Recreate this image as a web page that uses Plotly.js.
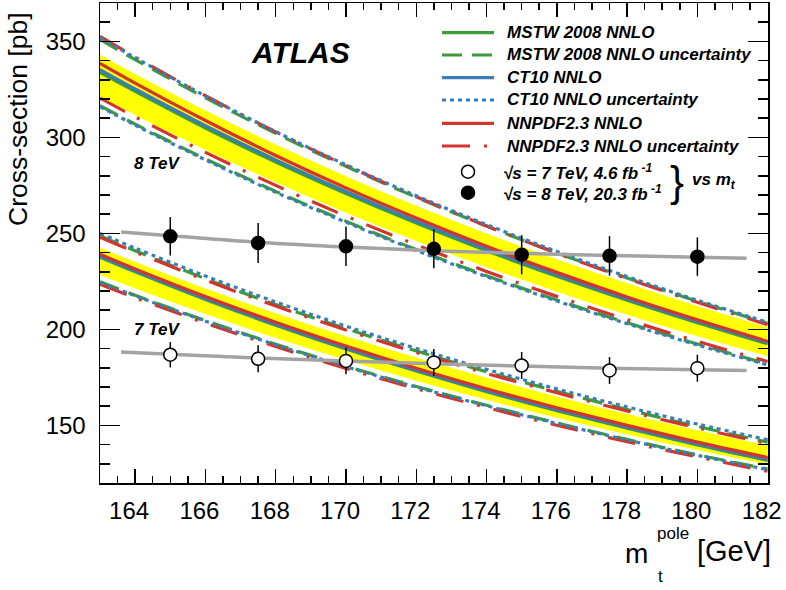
<!DOCTYPE html>
<html>
<head>
<meta charset="utf-8">
<script src="https://cdn.plot.ly/plotly-3.0.1.min.js"></script>
<style>
  html, body { margin: 0; padding: 0; background: #fff; }
  #chart { width: 786px; height: 590px; }
</style>
</head>
<body>
<div id="chart"></div>
<script>
// top mass grid for the theory curves [GeV]
const mass = [163, 164, 166, 168, 170, 172, 174, 176, 178, 180, 182];

// 8 TeV predictions [pb]
const band8Hi = [343.0, 333.0, 314.0, 296.3, 279.8, 264.4, 250.0, 236.6, 224.0, 212.2, 201.2];
const band8Lo = [321.3, 311.7, 293.5, 276.6, 260.8, 246.1, 232.4, 219.6, 207.6, 196.4, 186.0];
const mstw8   = [333.8, 324.0, 304.9, 287.2, 270.8, 255.4, 241.0, 227.7, 215.2, 203.5, 192.5];
const mstw8Up = [351.0, 340.5, 320.6, 302.1, 284.9, 268.8, 253.8, 239.8, 226.8, 214.6, 203.2];
const mstw8Dn = [316.5, 306.9, 288.8, 271.9, 256.3, 241.6, 228.0, 215.3, 203.5, 192.4, 182.0];
const ct108   = [335.3, 325.2, 306.1, 288.3, 271.8, 256.3, 241.9, 228.5, 215.9, 204.2, 193.2];
const ct108Up = [352.0, 341.5, 321.6, 303.0, 285.7, 269.6, 254.6, 240.6, 227.5, 215.2, 203.7];
const ct108Dn = [316.0, 306.4, 288.3, 271.4, 255.8, 241.1, 227.5, 214.8, 203.0, 191.9, 181.5];
const nnpdf8   = [338.6, 328.3, 308.8, 290.6, 273.7, 258.0, 243.3, 229.7, 216.9, 205.0, 193.8];
const nnpdf8Up = [352.6, 341.9, 321.7, 302.9, 285.4, 269.1, 253.9, 239.7, 226.5, 214.1, 202.5];
const nnpdf8Dn = [320.5, 310.7, 292.2, 275.0, 259.0, 244.1, 230.2, 217.2, 205.1, 193.8, 183.3];

// 7 TeV predictions [pb]
const band7Hi = [242.5, 235.2, 221.3, 208.4, 196.4, 185.3, 174.8, 165.1, 156.0, 147.5, 139.6];
const band7Lo = [228.4, 221.3, 208.0, 195.5, 184.0, 173.3, 163.3, 154.0, 145.3, 137.2, 129.6];
const mstw7   = [237.6, 230.0, 215.6, 202.2, 189.8, 178.3, 167.6, 157.7, 148.5, 139.8, 131.8];
const mstw7Up = [248.8, 241.0, 226.4, 212.9, 200.4, 188.8, 177.9, 167.8, 158.3, 149.5, 141.3];
const mstw7Dn = [224.8, 217.8, 204.6, 192.3, 180.9, 170.3, 160.5, 151.3, 142.7, 134.7, 127.3];
const ct107   = [238.1, 230.5, 216.1, 202.7, 190.3, 178.8, 168.1, 158.2, 149.0, 140.3, 132.3];
const ct107Up = [250.0, 242.3, 227.8, 214.3, 201.7, 190.1, 179.2, 169.0, 159.6, 150.7, 142.5];
const ct107Dn = [224.5, 217.5, 204.3, 192.0, 180.6, 170.0, 160.2, 151.0, 142.4, 134.4, 127.0];
const nnpdf7   = [239.1, 231.5, 217.1, 203.7, 191.3, 179.8, 169.1, 159.2, 150.0, 141.3, 133.3];
const nnpdf7Up = [248.0, 240.3, 225.7, 212.2, 199.7, 188.0, 177.1, 167.0, 157.5, 148.7, 140.5];
const nnpdf7Dn = [223.5, 216.5, 203.3, 191.1, 179.7, 169.1, 159.3, 150.1, 141.5, 133.6, 126.1];

// measurements vs assumed mass
const dataMass = [165, 167.5, 170, 172.5, 175, 177.5, 180];
const xs8  = [248.5, 245.0, 243.3, 242.0, 238.9, 238.3, 237.9];
const err8 = [10.0, 10.4, 10.3, 10.2, 10.2, 10.3, 10.0];
const xs7  = [186.8, 184.7, 183.6, 182.8, 181.2, 178.6, 179.8];
const err7 = [6.6, 7.0, 7.0, 7.0, 7.0, 7.0, 7.0];

// fitted mass dependence of the measurements
const fitMass = [163.6, 165, 167.5, 170, 172.5, 175, 177.5, 180, 181.4];
const fit8 = [250.7, 248.8, 245.4, 242.9, 241.0, 239.6, 238.5, 237.6, 237.1];
const fit7 = [188.2, 187.0, 185.1, 183.5, 182.1, 180.9, 179.8, 179.0, 178.6];

const xTicks = [164, 166, 168, 170, 172, 174, 176, 178, 180, 182];

const GREEN = '#3a9d3a';
const BLUE = '#3a7db8';
const RED = '#d2352c';
const YELLOW = '#ffff00';
const GREY = '#a3a3a3';
const LW = 3.2;
const DASH_MSTW = '20px,10px';
const DASH_CT10 = '4px,4px';
const DASH_NNPDF = '28px,14px,3px,14px';

function curve(y, color, dash) {
    return {
        x: mass, y: y, type: 'scatter', mode: 'lines',
        line: { color: color, width: LW, dash: dash || 'solid', shape: 'spline' },
        hoverinfo: 'skip'
    };
}

function band(lo, hi) {
    return [
        { x: mass, y: lo, type: 'scatter', mode: 'lines',
          line: { width: 0, shape: 'spline' }, hoverinfo: 'skip' },
        { x: mass, y: hi, type: 'scatter', mode: 'lines', fill: 'tonexty',
          fillcolor: YELLOW, line: { width: 0, shape: 'spline' }, hoverinfo: 'skip' }
    ];
}

function fitLine(y) {
    return {
        x: fitMass, y: y, type: 'scatter', mode: 'lines',
        line: { color: GREY, width: 3.5, shape: 'spline' }, hoverinfo: 'skip'
    };
}

function points(y, err, filled) {
    return {
        x: dataMass, y: y, type: 'scatter', mode: 'markers',
        marker: { symbol: 'circle', size: 13, color: filled ? 'black' : 'white',
                  line: { color: 'black', width: 1.5 } },
        error_y: { type: 'data', array: err, color: 'black', thickness: 1.5, width: 0 },
        hoverinfo: 'skip'
    };
}

const traces = [
    ...band(band8Lo, band8Hi),
    ...band(band7Lo, band7Hi),
    curve(mstw8Up, GREEN, DASH_MSTW), curve(mstw8Dn, GREEN, DASH_MSTW),
    curve(nnpdf8Up, RED, DASH_NNPDF), curve(nnpdf8Dn, RED, DASH_NNPDF),
    curve(ct108Up, BLUE, DASH_CT10), curve(ct108Dn, BLUE, DASH_CT10),
    curve(mstw7Up, GREEN, DASH_MSTW), curve(mstw7Dn, GREEN, DASH_MSTW),
    curve(nnpdf7Up, RED, DASH_NNPDF), curve(nnpdf7Dn, RED, DASH_NNPDF),
    curve(ct107Up, BLUE, DASH_CT10), curve(ct107Dn, BLUE, DASH_CT10),
    curve(mstw8, GREEN), curve(ct108, BLUE), curve(nnpdf8, RED),
    curve(mstw7, GREEN), curve(ct107, BLUE), curve(nnpdf7, RED),
    fitLine(fit8), fitLine(fit7),
    points(xs8, err8, true),
    points(xs7, err7, false)
];

// pixel helpers for the plot frame (l=100, r=768, t=3, b=483)
const px = v => (v - 100) / 668;
const py = v => (483 - v) / 480;

const FONT = 'Liberation Sans, Arial, Helvetica, sans-serif';

// hand-drawn legend in the top right corner
const legendRows = [
    { text: 'MSTW 2008 NNLO', color: GREEN, dash: 'solid', y: 32.7 },
    { text: 'MSTW 2008 NNLO uncertainty', color: GREEN, dash: DASH_MSTW, y: 55 },
    { text: 'CT10 NNLO', color: BLUE, dash: 'solid', y: 77.7 },
    { text: 'CT10 NNLO uncertainty', color: BLUE, dash: DASH_CT10, y: 100 },
    { text: 'NNPDF2.3 NNLO', color: RED, dash: 'solid', y: 123.3 },
    { text: 'NNPDF2.3 NNLO uncertainty', color: RED, dash: DASH_NNPDF, y: 146 }
];

const shapes = legendRows.map(r => ({
    type: 'line', xref: 'paper', yref: 'paper',
    x0: px(442), x1: px(494), y0: py(r.y), y1: py(r.y),
    line: { color: r.color, width: LW, dash: r.dash }
}));

[[171.7, 'white'], [192.7, 'black']].forEach(([y, fill]) => {
    shapes.push({
        type: 'circle', xref: 'paper', yref: 'paper',
        xsizemode: 'pixel', ysizemode: 'pixel',
        xanchor: px(468), yanchor: py(y),
        x0: -6.5, x1: 6.5, y0: -6.5, y1: 6.5,
        fillcolor: fill, line: { color: 'black', width: 1.5 }
    });
});

function label(text, x, y, size, opts) {
    return Object.assign({
        xref: 'paper', yref: 'paper', x: px(x), y: py(y),
        text: text, showarrow: false, xanchor: 'left', yanchor: 'middle',
        font: { family: FONT, size: size, color: 'black' }
    }, opts || {});
}

const annotations = legendRows.map(r => label('<b><i>' + r.text + '</i></b>', 505, r.y, 17));
annotations.push(
    label('<b><i>√s = 7 TeV, 4.6 fb<sup> -1</sup></i></b>', 501, 172, 17),
    label('<b><i>√s = 8 TeV, 20.3 fb<sup> -1</sup></i></b>', 501, 193, 17),
    label('}', 668, 181, 42),
    label('<b><i>vs m<sub>t</sub></i></b>', 690, 181, 17),
    label('<b><i>ATLAS</i></b>', 300, 53, 30, { xanchor: 'center' }),
    label('<b><i>8 TeV</i></b>', 132, 163, 17),
    label('<b><i>7 TeV</i></b>', 132, 329, 17),
    label('Cross-section [pb]', 18, 119, 26.5, { xanchor: 'center', textangle: -90 }),
    label('m', 623, 553, 28),
    label('pole', 655, 533, 17),
    label('t', 656, 576, 17),
    label('[GeV]', 695, 551, 29)
);

const axisCommon = {
    showgrid: false, zeroline: false,
    showline: true, linecolor: 'black', linewidth: 1.5, mirror: 'ticks',
    ticks: 'inside', tickcolor: 'black', tickwidth: 1.5,
    tickfont: { family: FONT, size: 24, color: 'black' }
};

const layout = {
    width: 786, height: 590,
    margin: { l: 100, r: 18, t: 3, b: 107 },
    paper_bgcolor: 'white', plot_bgcolor: 'white',
    showlegend: false,
    font: { family: FONT },
    xaxis: Object.assign({}, axisCommon, {
        range: [163, 182.01], tickmode: 'array', tickvals: xTicks,
        ticktext: xTicks.map(String), ticklen: 14,
        // labels sit a little left of their ticks, as in the original
        ticklabelstandoff: 6, ticklabelshift: -6, ticklabeloverflow: 'allow',
        minor: { dtick: 0.5, tick0: 164, ticks: 'inside', ticklen: 7, tickcolor: 'black', tickwidth: 1.5, showgrid: false }
    }),
    yaxis: Object.assign({}, axisCommon, {
        range: [120, 370], tick0: 0, dtick: 50, ticklen: 20,
        ticklabelstandoff: 8,
        minor: { dtick: 10, ticks: 'inside', ticklen: 10, tickcolor: 'black', tickwidth: 1.5, showgrid: false }
    }),
    shapes: shapes,
    annotations: annotations
};

Plotly.newPlot('chart', traces, layout, { displayModeBar: false, staticPlot: true });
</script>
</body>
</html>
